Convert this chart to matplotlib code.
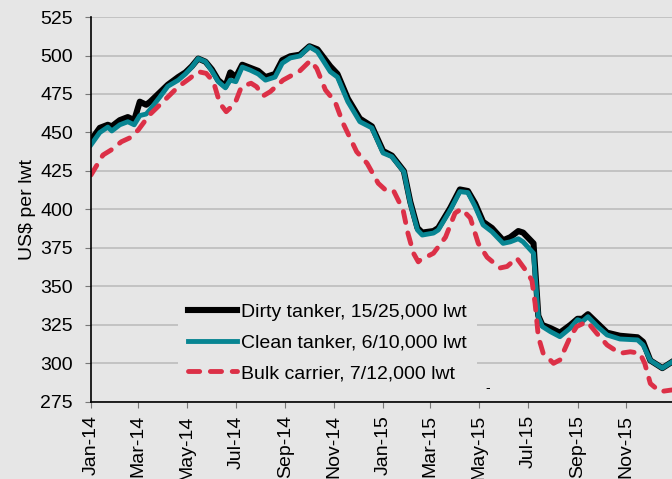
import pandas as pd
import matplotlib
matplotlib.use("Agg")
import matplotlib.pyplot as plt
import matplotlib.dates as mdates

plt.rcParams["font.family"] = ["Liberation Sans", "DejaVu Sans"]

# Newbuild price, US$ per lwt
dirty_dates = ["2014-01-01", "2014-01-12", "2014-01-22", "2014-01-27", "2014-02-06", "2014-02-16",
               "2014-02-24", "2014-03-03", "2014-03-11", "2014-03-16", "2014-03-28", "2014-04-07",
               "2014-04-20", "2014-04-29", "2014-05-07", "2014-05-15", "2014-05-24", "2014-06-01",
               "2014-06-09", "2014-06-18", "2014-06-24", "2014-07-01", "2014-07-09", "2014-07-19",
               "2014-07-29", "2014-08-07", "2014-08-19", "2014-08-28", "2014-09-07", "2014-09-19",
               "2014-10-01", "2014-10-11", "2014-10-27", "2014-11-05", "2014-11-18", "2014-12-03",
               "2014-12-18", "2015-01-01", "2015-01-12", "2015-01-27", "2015-02-04", "2015-02-13",
               "2015-02-19", "2015-03-05", "2015-03-11", "2015-03-26", "2015-04-07", "2015-04-17",
               "2015-04-26", "2015-05-06", "2015-05-17", "2015-05-31", "2015-06-09", "2015-06-19",
               "2015-06-25", "2015-07-08", "2015-07-14", "2015-07-19", "2015-07-29", "2015-08-10",
               "2015-08-23", "2015-09-01", "2015-09-07", "2015-09-14", "2015-09-26", "2015-10-08",
               "2015-10-24", "2015-11-15", "2015-11-22", "2015-12-01", "2015-12-16", "2015-12-28"]
dirty = [445, 453, 455, 454, 458, 460, 458, 470, 468, 470, 476, 481,
         486, 489, 493, 498, 496, 491, 484, 480, 489, 486, 494, 492,
         490, 486, 488, 497, 499.5, 500.5, 506, 504, 493, 488, 472, 459,
         454, 438, 435, 425, 405, 388, 385, 386, 388, 401, 413, 412,
         404, 392, 388, 380, 382, 386, 385, 378, 331, 325, 323, 320,
         325, 329, 329, 332, 326, 320, 318, 317, 314, 302, 297, 301]
clean = [442, 450, 453.5, 451, 455, 457, 455, 461, 462, 465, 473, 480,
         484, 488, 492.5, 498, 496, 490, 483, 479, 484, 483, 492.5, 490.5,
         488, 484, 486, 495, 498.4, 499.7, 505.7, 502.5, 489.5, 486, 470, 457,
         453, 436.7, 434.3, 424.5, 404, 386.7, 383.4, 384.7, 386.7, 399.7, 411.6, 411,
         402, 390, 385.6, 378, 379, 381, 379, 371.6, 330.4, 324, 320.7, 317.4,
         323, 328.4, 327.2, 330.4, 324, 318.5, 315.9, 315.3, 312, 302, 297, 301]

bulk_dates = ["2014-01-01", "2014-01-16", "2014-01-26", "2014-02-08", "2014-02-18", "2014-03-01",
              "2014-03-15", "2014-04-03", "2014-04-20", "2014-05-04", "2014-05-15", "2014-05-25",
              "2014-06-03", "2014-06-11", "2014-06-19", "2014-06-30", "2014-07-08", "2014-07-20",
              "2014-07-27", "2014-08-04", "2014-08-13", "2014-08-29", "2014-09-19", "2014-10-02",
              "2014-10-10", "2014-10-21", "2014-11-02", "2014-11-12", "2014-11-29", "2014-12-12",
              "2014-12-26", "2015-01-04", "2015-01-14", "2015-01-26", "2015-02-01", "2015-02-08",
              "2015-02-14", "2015-02-16", "2015-03-05", "2015-03-20", "2015-04-01", "2015-04-09",
              "2015-04-20", "2015-04-30", "2015-05-11", "2015-05-27", "2015-06-05", "2015-06-17",
              "2015-06-28", "2015-07-06", "2015-07-10", "2015-07-14", "2015-07-20", "2015-08-02",
              "2015-08-10", "2015-08-23", "2015-08-31", "2015-09-13", "2015-09-25", "2015-10-08",
              "2015-10-24", "2015-11-06", "2015-11-18", "2015-11-24", "2015-12-01", "2015-12-13",
              "2015-12-28"]
bulk = [422.4, 435.4, 438.6, 444, 446.4, 451.6, 461.4, 471, 479.7, 485, 489.5, 488.4,
        483, 469, 463.5, 469, 479.7, 482, 479.7, 473.7, 476.5, 484, 490, 496.6,
        491.7, 477.6, 470, 456, 437.5, 430, 417, 412.7, 412.3, 399.7, 384.7, 371.6,
        366, 367, 371.6, 382, 397.7, 400.4, 394.5, 378, 369, 362, 363, 368.5,
        360.7, 354, 339, 317.4, 306.8, 300.1, 302.3, 317.4, 324, 327.2, 319.6, 312,
        306.6, 307.6, 306.6, 300.1, 287, 281.7, 282.8]

labels = ["Dirty tanker, 15/25,000 lwt", "Clean tanker, 6/10,000 lwt", "Bulk carrier, 7/12,000 lwt"]
tick_dates = pd.date_range("2014-01-01", "2015-11-01", freq="2MS")

bg = "#e6e6e6"
fig = plt.figure(figsize=(6.72, 4.79), dpi=100, facecolor=bg)
# right edge runs past the image, as in the original
ax = fig.add_axes([0.1354, 0.1608, 0.905, 0.8037], facecolor=bg)

d1 = pd.to_datetime(dirty_dates)
d2 = pd.to_datetime(bulk_dates)
ax.plot(d1, dirty, color="black", lw=4.4, label=labels[0], solid_joinstyle="round")
ax.plot(d1, clean, color="#078592", lw=3.5, label=labels[1], solid_joinstyle="round")
ax.plot(d2, bulk, color="#dc3047", lw=3.5, ls=(0, (2.3, 2.2)), dash_capstyle="round",
        label=labels[2])

ax.set_xlim(pd.Timestamp("2014-01-01"), pd.Timestamp("2016-01-31"))
ax.set_ylim(275, 525)
ax.set_yticks(range(275, 526, 25))
ax.set_xticks(tick_dates)
ax.xaxis.set_major_formatter(mdates.DateFormatter("%b-%y"))
plt.setp(ax.get_xticklabels(), rotation=90)
ax.tick_params(labelsize=14, color="#777777")
ax.tick_params(axis="y", length=4.5, pad=8.5)
ax.tick_params(axis="x", length=4, pad=5.5)
ax.set_ylabel("US$ per lwt", fontsize=14, labelpad=3)

ax.grid(axis="y", color="#bdbdbd", lw=1.2)
ax.set_axisbelow(True)
for s in ["top", "right"]:
    ax.spines[s].set_visible(False)
for s in ["left", "bottom"]:
    ax.spines[s].set_linewidth(1.2)

leg = ax.legend(loc="lower left", bbox_to_anchor=(0.143, 0.026), fontsize=14, frameon=True,
                facecolor=bg, edgecolor="none", framealpha=1, handlelength=2.55,
                handletextpad=0.2, labelspacing=0.67, borderpad=0.5, borderaxespad=0)
ax.text(0.648, 0.036, "-", transform=ax.transAxes, fontsize=10, va="center")

fig.savefig("out.png", dpi=100, facecolor=bg)
